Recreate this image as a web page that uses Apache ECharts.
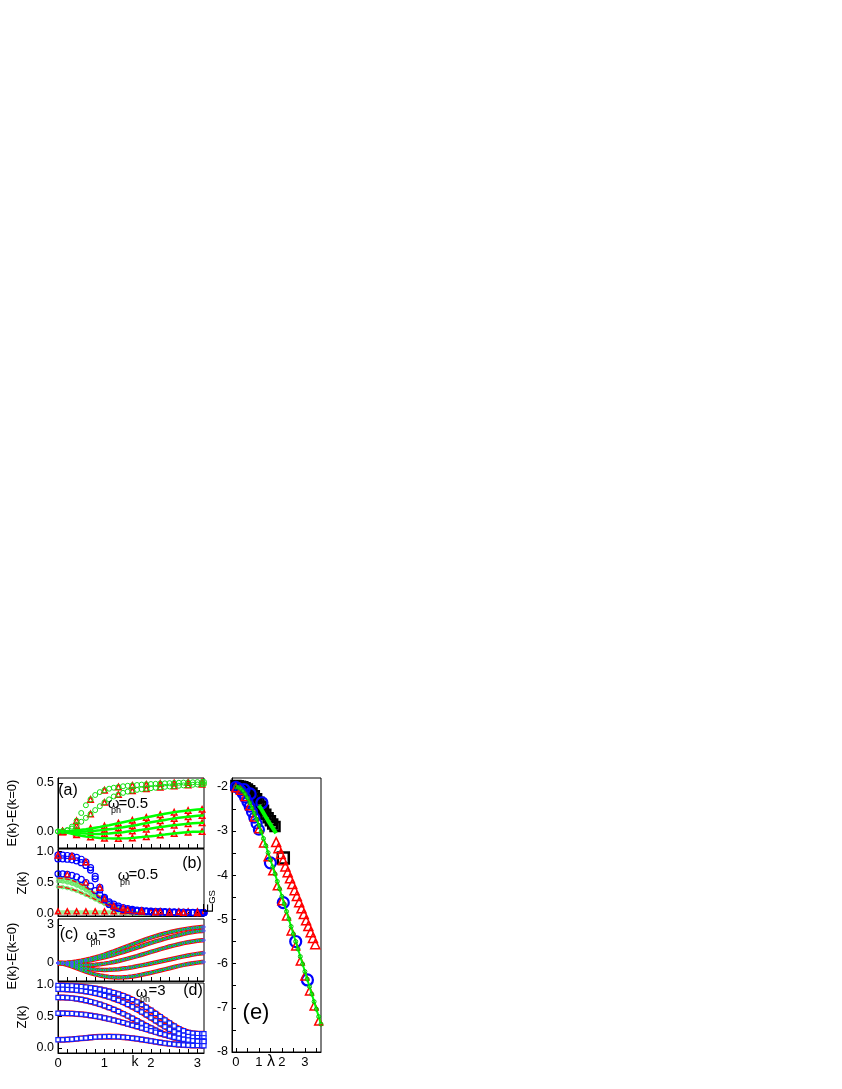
<!DOCTYPE html>
<html><head><meta charset="utf-8">
<script src="https://cdn.jsdelivr.net/npm/echarts@6/dist/echarts.min.js"></script>
<style>html,body{margin:0;padding:0;background:#fff}#c{width:842px;height:1089px}</style>
</head><body><div id="c"></div>
<script>
// ---------- data ----------
const kGrid = [0,0.1,0.2,0.3,0.4,0.5,0.6,0.7,0.8,0.9,1.0,1.1,1.2,1.3,1.4,1.5,1.6,1.7,1.8,1.9,2.0,2.1,2.2,2.3,2.4,2.5,2.6,2.7,2.8,2.9,3.0,3.1,3.14];
const kTicks = [0,1,2,3];

// panel (a) E(k)-E(k=0), omega_ph = 0.5
const aUp1 = [0,0.003,0.015,0.05,0.11,0.19,0.27,0.33,0.375,0.405,0.425,0.44,0.45,0.458,0.465,0.47,0.474,0.478,0.482,0.485,0.488,0.49,0.493,0.495,0.497,0.499,0.501,0.503,0.505,0.506,0.508,0.509,0.51];
const aUp2 = [0,0.002,0.01,0.03,0.06,0.1,0.14,0.18,0.22,0.26,0.3,0.33,0.36,0.38,0.397,0.41,0.42,0.428,0.435,0.44,0.445,0.45,0.455,0.459,0.463,0.467,0.47,0.474,0.477,0.48,0.483,0.486,0.487];
const aLow1 = [0,0.001,0.004,0.008,0.013,0.018,0.024,0.031,0.039,0.047,0.056,0.065,0.075,0.085,0.095,0.105,0.115,0.125,0.135,0.145,0.155,0.164,0.173,0.182,0.19,0.198,0.205,0.211,0.216,0.221,0.225,0.228,0.229];
const aLow2 = [0,0,-0.001,-0.002,-0.002,-0.001,0.001,0.004,0.008,0.012,0.017,0.023,0.029,0.036,0.043,0.051,0.059,0.067,0.076,0.085,0.094,0.103,0.111,0.119,0.127,0.134,0.141,0.147,0.152,0.157,0.161,0.164,0.165];
const aLow3 = [0,-0.002,-0.006,-0.011,-0.015,-0.019,-0.022,-0.024,-0.025,-0.025,-0.023,-0.02,-0.016,-0.012,-0.007,-0.001,0.005,0.011,0.017,0.024,0.031,0.038,0.045,0.052,0.058,0.064,0.07,0.075,0.08,0.084,0.087,0.089,0.09];
const aLow4 = [0,-0.005,-0.014,-0.024,-0.034,-0.043,-0.051,-0.057,-0.062,-0.066,-0.069,-0.071,-0.072,-0.072,-0.071,-0.069,-0.066,-0.062,-0.058,-0.053,-0.048,-0.043,-0.037,-0.032,-0.026,-0.021,-0.016,-0.011,-0.007,-0.004,-0.002,-0.001,0];
const aTicks = [0,0.5];

// panel (b) Z(k), omega_ph = 0.5
const bTop1 = [0.94,0.94,0.935,0.925,0.905,0.875,0.83,0.74,0.6,0.42,0.26,0.17,0.12,0.09,0.07,0.058,0.049,0.042,0.037,0.033,0.029,0.026,0.023,0.021,0.019,0.017,0.016,0.015,0.014,0.013,0.012,0.012,0.012];
const bTop2 = [0.88,0.88,0.875,0.865,0.848,0.82,0.775,0.7,0.56,0.38,0.22,0.145,0.105,0.08,0.063,0.052,0.044,0.038,0.034,0.03,0.027,0.024,0.022,0.02,0.018,0.016,0.015,0.014,0.013,0.012,0.011,0.011,0.011];
const bMid = [0.64,0.64,0.63,0.615,0.59,0.55,0.5,0.44,0.37,0.3,0.24,0.19,0.15,0.12,0.095,0.078,0.066,0.057,0.05,0.045,0.04,0.036,0.033,0.03,0.027,0.025,0.023,0.021,0.019,0.018,0.017,0.016,0.016];
const bG1 = [0.57,0.565,0.555,0.535,0.505,0.47,0.425,0.375,0.32,0.265,0.21,0.16,0.115,0.078,0.048,0.026,0.012,0.005,0.002];
const bG2 = [0.52,0.515,0.5,0.48,0.45,0.415,0.375,0.33,0.285,0.24,0.195,0.15,0.11,0.075,0.047,0.026,0.012,0.005,0.002];
const bG3 = [0.43,0.425,0.41,0.39,0.365,0.335,0.3,0.265,0.228,0.19,0.155,0.12,0.088,0.06,0.037,0.02,0.009,0.003,0.001];
const bG4 = [0.02,0.02,0.02,0.02,0.02,0.02,0.02,0.02,0.02,0.02,0.02,0.02,0.02,0.018,0.012,0.006,0.002];
const bLowK = [0,0.2,0.4,0.6,0.8,1.0,1.2,1.4,1.6,1.8,2.0,2.2,2.4,2.6,2.8,3.0,3.14];
const bLowTri = [0.035,0.035,0.035,0.035,0.035,0.035,0.035,0.035,0.035,0.035,0.035,0.035,0.035,0.035,0.035,0.035,0.035];
const bZeroK = [0,1.3];
const bZero = [0,0];
const bTicks = [0,0.5,1];

// panel (c) E(k)-E(k=0), omega_ph = 3
const c1 = [0,0.007,0.029,0.065,0.115,0.178,0.254,0.342,0.44,0.548,0.665,0.79,0.92,1.055,1.195,1.335,1.475,1.615,1.75,1.88,2.0,2.12,2.23,2.33,2.42,2.5,2.58,2.65,2.71,2.76,2.8,2.83,2.84];
const c2 = [0,0.004,0.017,0.04,0.072,0.113,0.163,0.223,0.292,0.37,0.456,0.55,0.65,0.757,0.868,0.983,1.1,1.22,1.34,1.46,1.58,1.7,1.81,1.92,2.02,2.12,2.21,2.3,2.38,2.44,2.5,2.53,2.54];
const c3 = [0,-0.01,-0.04,-0.08,-0.11,-0.14,-0.15,-0.15,-0.13,-0.1,-0.05,0.01,0.08,0.16,0.25,0.34,0.44,0.54,0.65,0.76,0.87,0.98,1.09,1.19,1.3,1.39,1.48,1.57,1.64,1.7,1.75,1.79,1.8];
const c4 = [0,-0.03,-0.1,-0.19,-0.28,-0.36,-0.43,-0.48,-0.52,-0.54,-0.55,-0.54,-0.52,-0.49,-0.44,-0.39,-0.33,-0.26,-0.19,-0.12,-0.04,0.04,0.12,0.2,0.28,0.36,0.44,0.52,0.59,0.66,0.72,0.77,0.79];
const c5 = [0,-0.04,-0.14,-0.27,-0.41,-0.55,-0.68,-0.8,-0.9,-0.98,-1.05,-1.1,-1.13,-1.14,-1.13,-1.1,-1.06,-1.0,-0.93,-0.85,-0.77,-0.68,-0.59,-0.5,-0.41,-0.32,-0.23,-0.15,-0.08,-0.02,0.03,0.07,0.08];
const cTicks = [0,3];

// panel (d) Z(k), omega_ph = 3
const d1 = [0.99,0.99,0.988,0.985,0.98,0.973,0.965,0.955,0.943,0.93,0.915,0.898,0.878,0.856,0.83,0.8,0.767,0.73,0.69,0.645,0.598,0.548,0.497,0.445,0.395,0.348,0.306,0.272,0.247,0.234,0.228,0.226,0.225];
const d2 = [0.93,0.93,0.927,0.922,0.915,0.906,0.895,0.882,0.867,0.85,0.83,0.808,0.783,0.755,0.724,0.69,0.653,0.613,0.57,0.525,0.478,0.43,0.383,0.338,0.296,0.258,0.226,0.2,0.182,0.17,0.164,0.161,0.16];
const d3 = [0.8,0.8,0.797,0.79,0.78,0.768,0.753,0.735,0.715,0.693,0.668,0.64,0.61,0.578,0.544,0.508,0.47,0.432,0.393,0.354,0.316,0.28,0.246,0.215,0.188,0.165,0.147,0.133,0.123,0.117,0.114,0.112,0.112];
const d4 = [0.55,0.55,0.548,0.545,0.54,0.533,0.525,0.515,0.503,0.49,0.475,0.459,0.441,0.422,0.402,0.381,0.36,0.339,0.317,0.295,0.273,0.251,0.229,0.208,0.188,0.169,0.152,0.137,0.125,0.115,0.108,0.104,0.103];
const d5 = [0.13,0.131,0.134,0.139,0.145,0.152,0.159,0.166,0.172,0.176,0.179,0.18,0.179,0.176,0.171,0.164,0.155,0.145,0.134,0.122,0.11,0.098,0.087,0.076,0.066,0.058,0.051,0.046,0.042,0.039,0.037,0.036,0.036];
const dTicks = [0,0.5,1];

// panel (e) E_GS vs lambda
const lamMain = [0,0.1,0.2,0.3,0.4,0.5,0.6,0.7,0.8,0.9,1.0,1.1,1.2,1.3,1.4,1.5,1.6,1.7,1.8,1.9,2.0,2.1,2.2,2.3,2.4,2.5,2.6,2.7,2.8,2.9,3.0,3.1,3.2,3.3,3.4,3.5,3.6,3.7];
const eMain = [-2.0,-2.01,-2.04,-2.09,-2.16,-2.25,-2.36,-2.48,-2.6,-2.73,-2.87,-3.02,-3.17,-3.33,-3.49,-3.65,-3.81,-3.97,-4.14,-4.31,-4.48,-4.65,-4.82,-4.99,-5.16,-5.33,-5.5,-5.67,-5.84,-6.01,-6.18,-6.35,-6.52,-6.69,-6.86,-7.03,-7.2,-7.37];
const lamBlue = [0,0.1,0.2,0.3,0.4,0.5,0.6,0.7,0.8,0.9,1.0];
const eBlue = [-2.0,-2.03,-2.08,-2.15,-2.24,-2.34,-2.45,-2.57,-2.7,-2.83,-2.97];
const lamBlueSp = [0.35,0.62,1.13,1.5,2.06,2.6,3.11];
const eBlueSp = [-2.06,-2.16,-2.36,-3.72,-4.62,-5.5,-6.37];
const lamSq = [0,0.1,0.2,0.3,0.4,0.5,0.6,0.7,0.8,0.9,1.0,1.1,1.2,1.3,1.4,1.5,1.6,1.7];
const eSq = [-1.97,-1.975,-1.985,-2.0,-2.02,-2.05,-2.09,-2.14,-2.2,-2.27,-2.35,-2.44,-2.53,-2.62,-2.7,-2.77,-2.84,-2.9];
const lamSqIso = [2.06];
const eSqIso = [-3.61];
const lamUpG = [1.0,1.1,1.2,1.3,1.4,1.5,1.6,1.7,1.75];
const eUpG = [-2.42,-2.5,-2.59,-2.68,-2.77,-2.85,-2.93,-3.01,-3.05];
const lamTri1 = [0,0.2,0.4,0.6,0.8,1.0,1.2,1.4,1.6,1.8,2.0,2.2,2.4,2.6,2.8,3.0,3.2,3.4,3.6];
const eTri1 = [-2.02,-2.08,-2.22,-2.43,-2.68,-2.95,-3.27,-3.58,-3.9,-4.24,-4.58,-4.92,-5.26,-5.6,-5.94,-6.28,-6.62,-6.96,-7.3];
const lamTri2 = [1.75,1.85,1.95,2.05,2.15,2.25,2.35,2.45,2.55,2.65,2.75,2.85,2.95,3.05,3.15,3.25,3.35,3.45];
const eTri2 = [-3.25,-3.39,-3.52,-3.66,-3.8,-3.93,-4.07,-4.2,-4.34,-4.47,-4.61,-4.75,-4.88,-5.02,-5.15,-5.29,-5.42,-5.56];
const eYTicks = [-8,-7,-6,-5,-4,-3,-2];
const eXTicks = [0,1,2,3];
const eXMinor = [0,0.5,1,1.5,2,2.5,3,3.5];

// ---------- chart ----------
const FONT = '"Liberation Sans", Arial, sans-serif';
const chart = echarts.init(document.getElementById('c'), null, {renderer:'canvas'});

const grids = [
  {left:58, top:778, width:146, height:70},
  {left:58, top:849, width:146, height:67},
  {left:58, top:919, width:146, height:62},
  {left:58, top:983, width:146, height:70},
  {left:232, top:778, width:89, height:274}
].map(g => Object.assign({show:true, borderColor:'#000', borderWidth:1, backgroundColor:'rgba(0,0,0,0)'}, g));

const tickStyle = {color:'#000', width:1};
function xAx(gi, min, max, labels, ticks, showLabels) {
  return {type:'value', gridIndex:gi, min, max,
    axisLine:{show:true, onZero:false, lineStyle:{color:'#000'}},
    axisTick:{show:true, inside:true, length:4, customValues:ticks, lineStyle:tickStyle},
    axisLabel:{show:showLabels, customValues:labels, margin:4, color:'#000', fontSize:13, fontFamily:FONT, formatter:v=>String(v)},
    splitLine:{show:false}};
}
function yAx(gi, min, max, labels, fmt, ticks) {
  return {type:'value', gridIndex:gi, min, max,
    axisLine:{show:true, onZero:false, lineStyle:{color:'#000'}},
    axisTick:{show:true, inside:true, length:4, customValues:ticks||labels, lineStyle:tickStyle},
    axisLabel:{show:true, customValues:labels, margin:4, color:'#000', fontSize:12.5, fontFamily:FONT, formatter:fmt},
    splitLine:{show:false}};
}
const kMinor = [0,0.2,0.4,0.6,0.8,1,1.2,1.4,1.6,1.8,2,2.2,2.4,2.6,2.8,3];
const xAxis = [
  xAx(0, 0, Math.PI, kTicks, kMinor, false),
  xAx(1, 0, Math.PI, kTicks, kMinor, false),
  xAx(2, 0, Math.PI, kTicks, kMinor, false),
  xAx(3, 0, Math.PI, kTicks, kMinor, true),
  xAx(4, -0.17, 3.7, eXTicks, eXMinor, true)
];
const f1 = v => v.toFixed(1);
const yAxis = [
  yAx(0, -0.17, 0.55, aTicks, f1),
  yAx(1, -0.04, 1.04, bTicks, f1),
  yAx(2, -1.42, 3.47, cTicks, v=>String(v)),
  yAx(3, -0.08, 1.03, dTicks, f1),
  yAx(4, -8, -1.8, eYTicks, v=>String(v), [-8,-7.5,-7,-6.5,-6,-5.5,-5,-4.5,-4,-3.5,-3,-2.5,-2])
];

const S = [];
function pairs(xs, ys) { return ys.map((y,i)=>[xs[i], y]); }
function line(gi, xs, ys, color, width, type, z) {
  S.push({type:'line', xAxisIndex:gi, yAxisIndex:gi, data:pairs(xs, ys), symbol:'none', showSymbol:false,
    lineStyle:{color, width, type:type||'solid'}, silent:true, clip:true, z:z||2});
}
function marks(gi, xs, ys, symbol, size, color, bw, step, offset, fill, z) {
  step = step||1; offset = offset||0;
  const d = [];
  ys.forEach((y,i)=>{ if (i>=offset && (i-offset)%step===0) d.push([xs[i], y]); });
  S.push({type:'scatter', xAxisIndex:gi, yAxisIndex:gi, data:d, symbol, symbolSize:size,
    itemStyle:{color:fill||'rgba(0,0,0,0)', borderColor:color, borderWidth:bw, opacity:1}, silent:true, clip:true, z:z||3});
}

const RED = '#ff0000', GREEN = '#00ff00', BLUE = '#0000ff';

// (a)
[aLow1, aLow2, aLow3, aLow4].forEach(v => {
  marks(0, kGrid, v, 'triangle', 5.5, RED, 1.5, 3, 1, null, 2);
  line(0, kGrid, v, GREEN, 2.5, 'solid', 3);
});
[aUp1, aUp2].forEach(v => {
  marks(0, kGrid, v, 'triangle', 5.5, RED, 1.5, 3, 1, null, 2);
  marks(0, kGrid, v, 'circle', 5, '#10e010', 1, 1, 0, null, 3);
});

// (b)
line(1, bZeroK, bZero, '#b03020', 1.5, 'dashed');
line(1, kGrid, bG4, '#99f099', 4);
[bG1, bG2, bG3].forEach(v => {
  line(1, kGrid, v, '#80f080', 3);
  marks(1, kGrid, v, 'circle', 3.5, '#60e060', 0.8, 1);
});
line(1, kGrid, bG1, RED, 1.2, 'dashed', 4);
line(1, kGrid, bG3, RED, 1.2, 'dashed', 4);
marks(1, bLowK, bLowTri, 'triangle', 5, RED, 1.5, 1);
[bTop1, bTop2, bMid].forEach(v => marks(1, kGrid, v, 'circle', 6, BLUE, 1.2, 1));
marks(1, kGrid, bTop1, 'triangle', 5.5, RED, 1.5, 3, 0, null, 4);
marks(1, kGrid, bMid, 'triangle', 5, RED, 1.2, 4, 2, null, 4);

// (c)
[c1, c2, c3, c4, c5].forEach(v => {
  line(2, kGrid, v, RED, 4.5, 'solid', 2);
  line(2, kGrid, v, '#00e000', 2.5, 'solid', 3);
  marks(2, kGrid, v, 'circle', 2.5, '#5050ff', 1, 1, 0, null, 4);
});

// (d)
[d1, d2, d3, d4, d5].forEach(v => {
  line(3, kGrid, v, RED, 6, 'solid', 2);
  line(3, kGrid, v, '#00d000', 3.5, 'solid', 3);
  marks(3, kGrid, v, 'rect', 4.2, '#1020ff', 1.2, 1, 0, '#ffffff', 4);
});

// (e)
marks(4, lamSq, eSq, 'rect', 9, '#000', 2.5, 1);
marks(4, lamSqIso, eSqIso, 'rect', 11, '#000', 2.5, 1, 0, '#fff');
marks(4, lamBlue, eBlue, 'circle', 10, BLUE, 2.2, 1);
marks(4, lamBlueSp, eBlueSp, 'circle', 11, BLUE, 2.2, 1);
marks(4, lamTri1, eTri1, 'triangle', 8, RED, 1.5, 1);
marks(4, lamTri2, eTri2, 'triangle', 9, RED, 1.5, 1);
line(4, lamUpG, eUpG, GREEN, 4, 'solid', 5);
line(4, lamMain, eMain, GREEN, 2, 'solid', 5);
marks(4, lamMain, eMain, 'circle', 4, '#00c000', 1, 1, 0, null, 6);

// ---------- texts ----------
function txt(x, y, text, size, opts) {
  return Object.assign({type:'text', x, y, z:10, silent:true,
    style:{text, fill:'#000', fontSize:size, fontFamily:FONT, align:'center', verticalAlign:'middle'}}, opts||{});
}
const R = Math.PI/2;
const graphic = [
  txt(68, 791, '(a)', 16),
  txt(113.5, 804, 'ω', 15), txt(116, 811, 'ph', 9), txt(118.5, 803.5, '=0.5', 15),
  txt(192, 864, '(b)', 16),
  txt(123.5, 876, 'ω', 15), txt(125, 883, 'ph', 9), txt(128.5, 875, '=0.5', 15),
  txt(69, 935, '(c)', 16),
  txt(91.5, 936, 'ω', 15), txt(95.5, 942.5, 'ph', 9), txt(98.5, 934, '=3', 15),
  txt(141.5, 993, 'ω', 15), txt(145, 999.5, 'ph', 9), txt(148.5, 991, '=3', 15),
  txt(193, 991, '(d)', 16),
  txt(256, 1013, '(e)', 22),
  txt(12, 813, 'E(k)-E(k=0)', 13, {rotation:R}),
  txt(22, 883, 'Z(k)', 13, {rotation:R}),
  txt(12, 956, 'E(k)-E(k=0)', 13, {rotation:R}),
  txt(22, 1017, 'Z(k)', 13, {rotation:R}),
  txt(209, 908, 'E', 15, {rotation:R}),
  txt(212.5, 897, 'GS', 9.5, {rotation:R}),
  txt(135, 1062, 'k', 14),
  txt(271, 1062, 'λ', 16)
];
[3, 7, 11, 14].forEach(i => { graphic[i].style.align = 'left'; });

chart.setOption({
  backgroundColor:'#fff',
  animation:false,
  grid:grids, xAxis, yAxis, series:S, graphic
});
</script></body></html>
